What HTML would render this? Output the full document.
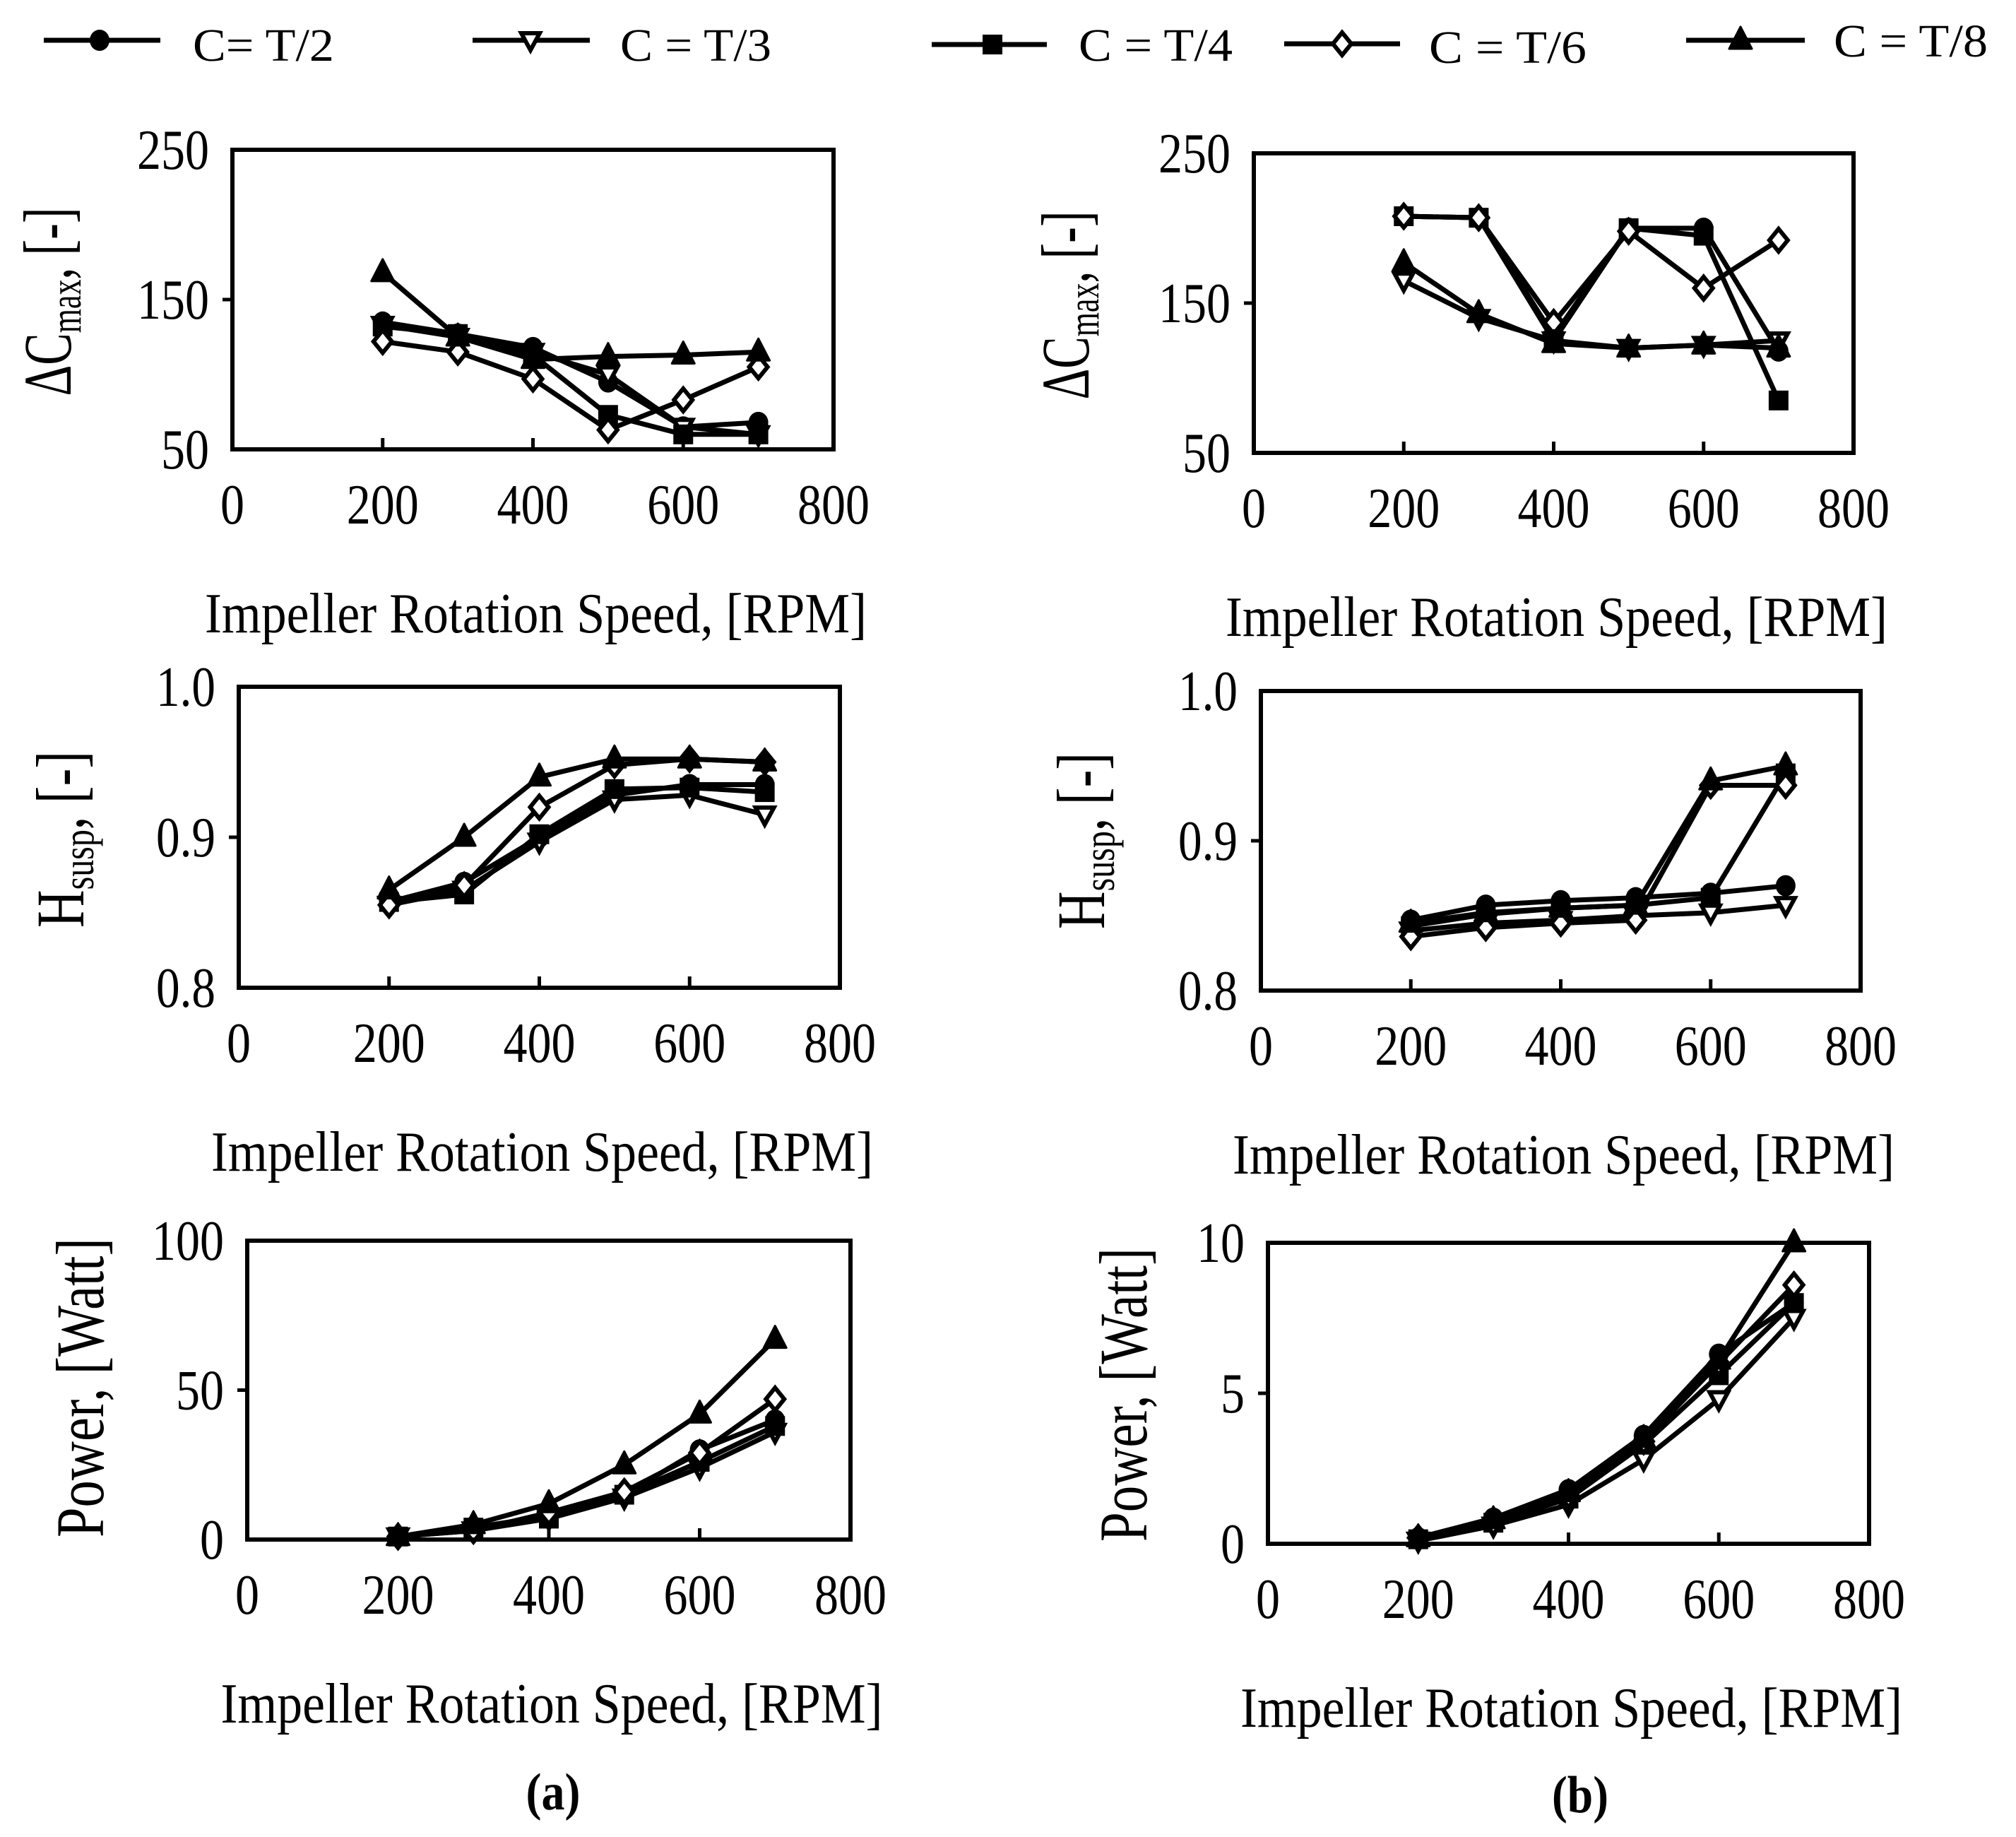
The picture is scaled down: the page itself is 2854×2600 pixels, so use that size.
<!DOCTYPE html>
<html><head><meta charset="utf-8"><style>
html,body{margin:0;padding:0;background:#fff;}
svg{display:block;font-family:"Liberation Serif","Times New Roman",serif;}
</style></head><body>
<svg id="fig" width="2854" height="2600" viewBox="0 0 2854 2600" xmlns="http://www.w3.org/2000/svg"></svg>
<script>
// ---- data ----
const rpm = [200, 300, 400, 500, 600, 700];
const seriesNames = ["C= T/2", "C = T/3", "C = T/4", "C = T/6", "C = T/8"];
const xTickLabels = ["0", "200", "400", "600", "800"];
// panel (a) dCmax
const aDc_T2 = [135, 127, 118, 95, 65, 68];
const aDc_T3 = [133, 125, 115, 100, 65, 60];
const aDc_T4 = [132, 127, 113, 73, 60, 60];
const aDc_T6 = [122, 115, 97, 63, 83, 105];
const aDc_T8 = [168, 125, 110, 112, 113, 115];
// panel (b) dCmax
const bDc_T2 = [208, 207, 128, 200, 200, 118];
const bDc_T3 = [165, 140, 125, 120, 122, 125];
const bDc_T4 = [208, 207, 125, 200, 195, 85];
const bDc_T6 = [208, 207, 137, 198, 160, 192];
const bDc_T8 = [177, 143, 123, 120, 122, 120];
// panel (a) Hsusp
const aH_T2 = [0.857, 0.870, 0.900, 0.928, 0.935, 0.935];
const aH_T3 = [0.855, 0.865, 0.897, 0.925, 0.928, 0.915];
const aH_T4 = [0.857, 0.862, 0.902, 0.932, 0.933, 0.930];
const aH_T6 = [0.855, 0.868, 0.920, 0.948, 0.952, 0.950];
const aH_T8 = [0.865, 0.900, 0.940, 0.952, 0.952, 0.950];
// panel (b) Hsusp
const bH_T2 = [0.847, 0.857, 0.860, 0.862, 0.865, 0.870];
const bH_T3 = [0.840, 0.845, 0.847, 0.850, 0.852, 0.857];
const bH_T4 = [0.843, 0.851, 0.855, 0.857, 0.862, 0.945];
const bH_T6 = [0.836, 0.842, 0.845, 0.847, 0.937, 0.937];
const bH_T8 = [0.845, 0.852, 0.855, 0.857, 0.940, 0.950];
// panel (a) power
const aP_T2 = [1, 4, 8, 15, 30, 40];
const aP_T3 = [1, 3, 7, 14, 24, 36];
const aP_T4 = [1, 4, 7, 15, 26, 38];
const aP_T6 = [1, 3, 9, 16, 29, 47];
const aP_T8 = [1, 5, 12, 25, 42, 67];
// panel (b) power
const bP_T2 = [0.2, 0.85, 1.8, 3.6, 6.3, 8.0];
const bP_T3 = [0.1, 0.6, 1.3, 2.8, 4.8, 7.5];
const bP_T4 = [0.15, 0.7, 1.5, 3.3, 5.6, 8.0];
const bP_T6 = [0.2, 0.7, 1.6, 3.4, 6.0, 8.6];
const bP_T8 = [0.2, 0.8, 1.7, 3.5, 6.1, 10.0];
const dcTicks = [50, 150, 250];
const hTicks = [0.8, 0.9, 1.0];
const hTickLabels = ["0.8", "0.9", "1.0"];
const pTicksA = [0, 50, 100];
const pTicksB = [0, 5, 10];

const NS = "http://www.w3.org/2000/svg";
const svg = document.getElementById("fig");
function mk(tag, attrs, parent) {
  const e = document.createElementNS(NS, tag);
  for (const k in attrs) e.setAttribute(k, attrs[k]);
  (parent || svg).appendChild(e);
  return e;
}
const markerTypes = ["circle", "tridown", "square", "diamond", "triup"];
function marker(type, x, y, g) {
  let e;
  if (type === "circle") e = mk("ellipse", {cx: x, cy: y, rx: 14, ry: 15, fill: "#000"}, g);
  else if (type === "square") e = mk("rect", {x: x - 14, y: y - 14, width: 28, height: 28, fill: "#000"}, g);
  else if (type === "triup") e = mk("polygon", {points: `${x},${y-19} ${x+16},${y+12} ${x-16},${y+12}`, fill: "#000", stroke: "#000", "stroke-width": 3, "stroke-linejoin": "round"}, g);
  else if (type === "tridown") e = mk("polygon", {points: `${x-13},${y-10} ${x+13},${y-10} ${x},${y+14}`, fill: "#fff", stroke: "#000", "stroke-width": 6}, g);
  else e = mk("polygon", {points: `${x},${y-16} ${x+13},${y} ${x},${y+16} ${x-13},${y}`, fill: "#fff", stroke: "#000", "stroke-width": 6}, g);
  
  
  return e;
}
function text(str, x, y, size, len, opts) {
  const t = mk("text", Object.assign({x: x, y: y, "font-size": size, "text-anchor": "middle", fill: "#000"}, opts || {}));
  t.textContent = str;
  if (len) { t.setAttribute("textLength", len); t.setAttribute("lengthAdjust", "spacingAndGlyphs"); }
  return t;
}

function panel(cfg) {
  const g = mk("g", {});
  
  
  const {l, r, t, b, ymin, ymax} = cfg;
  const sx = v => l + (v - 0) / 800 * (r - l);
  const sy = v => b - (v - ymin) / (ymax - ymin) * (b - t);
  // series
  cfg.series.forEach((arr, si) => {
    const pts = rpm.map((v, i) => sx(v) + "," + sy(arr[i])).join(" ");
    const pl = mk("polyline", {points: pts, fill: "none", stroke: "#000", "stroke-width": 7, "stroke-linejoin": "round"}, g);
    
    
  });
  cfg.series.forEach((arr, si) => {
    rpm.forEach((v, i) => marker(markerTypes[si], sx(v), sy(arr[i]), g));
  });
  // frame
  const fr = mk("rect", {x: l, y: t, width: r - l, height: b - t, fill: "none", stroke: "#000", "stroke-width": 6}, g);
  
  
  // x ticks
  [200, 400, 600].forEach(v => mk("line", {x1: sx(v), x2: sx(v), y1: b, y2: b - 16, stroke: "#000", "stroke-width": 5}, g));
  mk("line", {x1: l, x2: l - 14, y1: sy(cfg.yticks[1]), y2: sy(cfg.yticks[1]), stroke: "#000", "stroke-width": 5}, g);
  xTickLabels.forEach((s, i) => {
    const tl = text(s, sx(i * 200), b + 105, 80, s.length * 34);
    
    
  });
  cfg.yticks.forEach((v, i) => {
    const s = cfg.ylabels[i];
    const tl = text(s, l - 33, sy(v) + 27, 80, s.length * 34 - (s.indexOf('.') >= 0 ? 18 : 0), {"text-anchor": "end"});
    
    
  });
  const xt = text("Impeller Rotation Speed, [RPM]", (l + r) / 2 + 4, b + 259, 80, 937);
  
  
  // y title
  const yt = mk("text", {x: 0, y: 0, "font-size": 96, "text-anchor": "middle", transform: `translate(${cfg.ytx},${cfg.yty}) rotate(-90)`, textLength: cfg.ytlen, lengthAdjust: "spacingAndGlyphs"});
  
  
  cfg.ytitle.forEach(p => {
    const ts = mk("tspan", p.sub ? {"font-size": 62, dy: 14} : (p.back ? {dy: -14} : {}), yt);
    ts.textContent = p.s;
  });
}

const dcTitle = [{s: "\u0394C"}, {s: "max", sub: 1}, {s: ", [-]", back: 1}];
const hTitle = [{s: "H"}, {s: "susp", sub: 1}, {s: ", [-]", back: 1}];
const pTitle = [{s: "Power, [Watt]"}];

panel({name: "panel-a-dcmax", l: 329, r: 1180, t: 212, b: 636, ymin: 50, ymax: 250, yticks: dcTicks, ylabels: dcTicks.map(String),
  series: [aDc_T2, aDc_T3, aDc_T4, aDc_T6, aDc_T8], ytitle: dcTitle, ytx: 100, yty: 427, ytlen: 267});
panel({name: "panel-b-dcmax", l: 1775, r: 2624, t: 217, b: 641, ymin: 50, ymax: 250, yticks: dcTicks, ylabels: dcTicks.map(String),
  series: [bDc_T2, bDc_T3, bDc_T4, bDc_T6, bDc_T8], ytitle: dcTitle, ytx: 1541, yty: 432, ytlen: 267});
panel({name: "panel-a-hsusp", l: 338, r: 1189, t: 972, b: 1398, ymin: 0.8, ymax: 1.0, yticks: hTicks, ylabels: hTickLabels,
  series: [aH_T2, aH_T3, aH_T4, aH_T6, aH_T8], ytitle: hTitle, ytx: 118, yty: 1188, ytlen: 250});
panel({name: "panel-b-hsusp", l: 1785, r: 2634, t: 978, b: 1402, ymin: 0.8, ymax: 1.0, yticks: hTicks, ylabels: hTickLabels,
  series: [bH_T2, bH_T3, bH_T4, bH_T6, bH_T8], ytitle: hTitle, ytx: 1563, yty: 1190, ytlen: 250});
panel({name: "panel-a-power", l: 350, r: 1204, t: 1756, b: 2179, ymin: 0, ymax: 100, yticks: pTicksA, ylabels: pTicksA.map(String),
  series: [aP_T2, aP_T3, aP_T4, aP_T6, aP_T8], ytitle: pTitle, ytx: 146, yty: 1964, ytlen: 424});
panel({name: "panel-b-power", l: 1795, r: 2646, t: 1759, b: 2185, ymin: 0, ymax: 10, yticks: pTicksB, ylabels: pTicksB.map(String),
  series: [bP_T2, bP_T3, bP_T4, bP_T6, bP_T8], ytitle: pTitle, ytx: 1623, yty: 1974, ytlen: 416});

// panel letters
const la = text("(a)", 783, 2561, 74, 77, {"font-weight": "bold"});


const lb = text("(b)", 2237, 2565, 74, 80, {"font-weight": "bold"});



// legend
const legX1 = [62, 669, 1319, 1818, 2387];
const legX2 = [227, 835, 1482, 1982, 2555];
const legM = [141, 751, 1405, 1900, 2464];
const legTx = [273, 878, 1527, 2023, 2596];
const legLy = [57, 57, 63, 62, 57];
const legTy = [86, 86, 86, 89, 80];
const legTw = [200, 214, 218, 223, 218];
seriesNames.forEach((nm, i) => {
  const g = mk("g", {});
  
  
  mk("line", {x1: legX1[i], x2: legX2[i], y1: legLy[i], y2: legLy[i], stroke: "#000", "stroke-width": 7}, g);
  marker(markerTypes[i], legM[i], legLy[i], g);
  const t = text(nm, legTx[i], legTy[i], 66, legTw[i], {"text-anchor": "start"});
  g.appendChild(t);
});
</script>
</body></html>
